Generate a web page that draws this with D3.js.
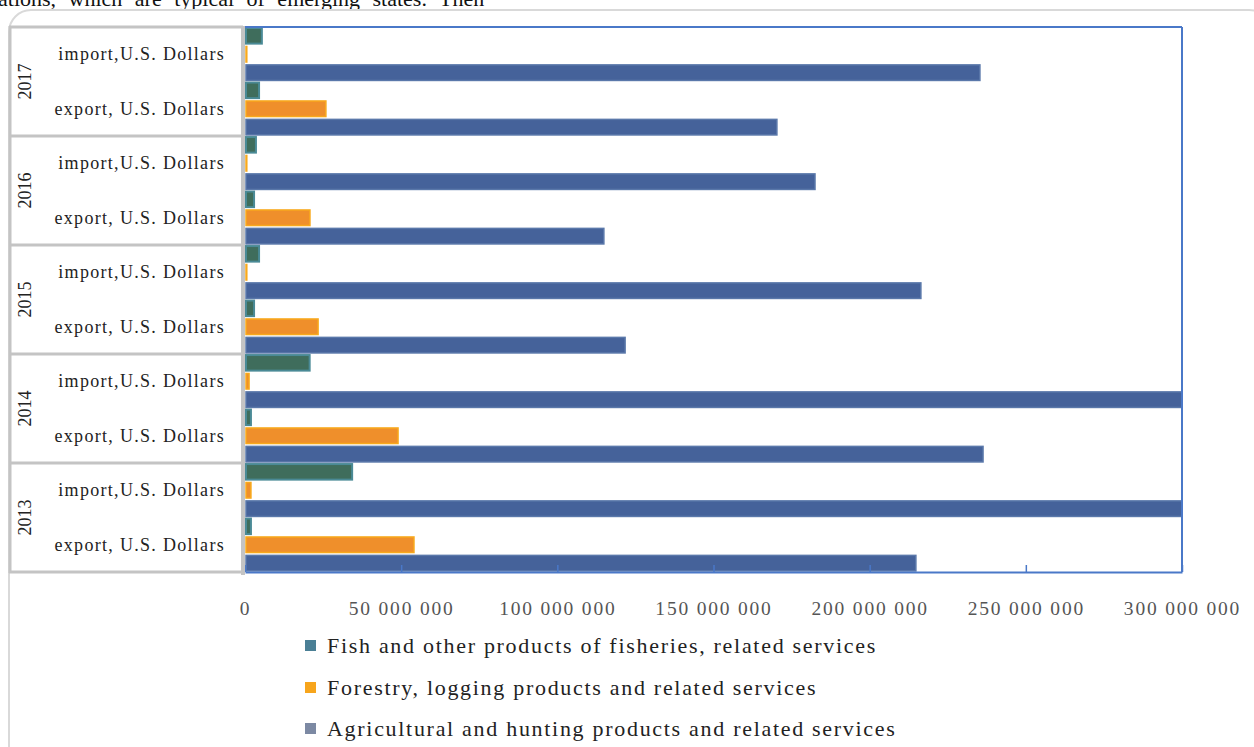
<!DOCTYPE html>
<html>
<head>
<meta charset="utf-8">
<script src="https://cdn.jsdelivr.net/npm/d3@7/dist/d3.min.js"></script>
<style>
  html, body { margin: 0; padding: 0; background: #fff; overflow: hidden; }
  text { font-family: "Liberation Serif", "Times New Roman", serif; }
</style>
</head>
<body>
<svg id="chart" width="1254" height="747"></svg>
<script>
// ---- data ----
const years = ["2017", "2016", "2015", "2014", "2013"];
const flows = ["import,U.S. Dollars", "export, U.S. Dollars"];
const seriesNames = [
  "Fish and other products of fisheries, related services",
  "Forestry, logging products and related services",
  "Agricultural and hunting products and related services"
];
// values in U.S. dollars, categories ordered: 2017 import, 2017 export, 2016 import, ... 2013 export
const fish     = [5400000, 4500000, 3500000, 2900000, 4500000, 2900000, 20700000, 1900000, 34300000, 1900000];
const forestry = [300000, 25900000, 300000, 20800000, 300000, 23400000, 1300000, 49000000, 1900000, 54100000];
const agri     = [235300000, 170300000, 182500000, 114900000, 216400000, 121700000, 320000000, 236300000, 330000000, 214800000];
const xTicks = [0, 50000000, 100000000, 150000000, 200000000, 250000000, 300000000];
const xTickLabels = ["0", "50 000 000", "100 000 000", "150 000 000", "200 000 000", "250 000 000", "300 000 000"];

// ---- layout ----
const svg = d3.select("#chart");
const plot = { left: 245, right: 1182, top: 27, bottom: 572 };

// page text fragment above the figure (cut by the page edge, as in the source)
svg.append("text")
  .attr("x", -2).attr("y", 6)
  .attr("font-size", 22)
  .attr("word-spacing", 7)
  .attr("fill", "#111")
  .text("ations,  which  are  typical  of  emerging  states.  Then");

// outer rounded frame
svg.append("rect")
  .attr("x", 9).attr("y", 10).attr("width", 1262).attr("height", 780)
  .attr("rx", 22).attr("ry", 22)
  .attr("fill", "none").attr("stroke", "#d9d9d9").attr("stroke-width", 2);

const categories = [];
years.forEach(y => flows.forEach(f => categories.push(y + "|" + f)));

const x = d3.scaleLinear().domain([0, 300000000]).range([plot.left, plot.right]);
const y = d3.scaleBand().domain(categories).range([plot.top, plot.bottom]).paddingInner(0).paddingOuter(0);
const keys = ["fish", "forestry", "agri"];
const ySub = d3.scaleBand().domain(keys).range([0, y.bandwidth()]).paddingInner(0.1).paddingOuter(0.03);

const seriesData = { fish, forestry, agri };
const fills   = { fish: "#3f6d5c", forestry: "#ef8f2b", agri: "#45629a" };
const strokes = { fish: "#4a8a96", forestry: "#f8a91c", agri: "#5a78aa" };
const legendColors = ["#4a7f95", "#f7a51c", "#7c89a3"];

// clip
svg.append("clipPath").attr("id", "plotclip")
  .append("rect").attr("x", plot.left).attr("y", plot.top - 2)
  .attr("width", plot.right - plot.left).attr("height", plot.bottom - plot.top + 4);

// bars
const barG = svg.append("g").attr("clip-path", "url(#plotclip)");
keys.forEach(k => {
  barG.selectAll(null)
    .data(seriesData[k].map((v, i) => ({ v, c: categories[i] })))
    .enter().append("rect")
    .attr("x", x(0) + 1)
    .attr("y", d => y(d.c) + ySub(k) + 0.5)
    .attr("width", d => Math.max(0.8, x(d.v) - x(0) - 1))
    .attr("height", ySub.bandwidth() - 1)
    .attr("fill", fills[k])
    .attr("stroke", strokes[k])
    .attr("stroke-width", k === "fish" ? 2 : 1.5);
});

// plot border (top, right) and x-axis
const blue = "#4a78c8";
svg.append("line").attr("x1", plot.left).attr("x2", plot.right).attr("y1", plot.top).attr("y2", plot.top)
  .attr("stroke", blue).attr("stroke-width", 2);
svg.append("line").attr("x1", plot.right).attr("x2", plot.right).attr("y1", plot.top).attr("y2", plot.bottom)
  .attr("stroke", blue).attr("stroke-width", 2);

const xAxis = d3.axisBottom(x).tickValues(xTicks).tickSize(-7).tickFormat((d, i) => xTickLabels[i]).tickSizeOuter(0);
const axG = svg.append("g").attr("transform", `translate(0,${plot.bottom})`).call(xAxis);
axG.select(".domain").attr("stroke", blue).attr("stroke-width", 2);
axG.selectAll(".tick line").attr("stroke", blue).attr("stroke-width", 1.5);
axG.selectAll(".tick text")
  .attr("y", 29)
  .attr("font-family", "Liberation Serif, serif")
  .attr("font-size", 19.5)
  .attr("letter-spacing", 1.8)
  .attr("fill", "#555");

// category axis frame
const grey = "#c4c4c4";
svg.append("line").attr("x1", 10).attr("x2", 10).attr("y1", plot.top - 1).attr("y2", plot.bottom + 1)
  .attr("stroke", grey).attr("stroke-width", 3);
svg.append("line").attr("x1", 243).attr("x2", 243).attr("y1", plot.top - 1).attr("y2", plot.bottom + 3)
  .attr("stroke", grey).attr("stroke-width", 4);
const yearBounds = years.map(yr => y(yr + "|" + flows[0]));
yearBounds.push(plot.bottom);
svg.selectAll(null).data(yearBounds).enter().append("line")
  .attr("x1", 9).attr("x2", 243)
  .attr("y1", d => d).attr("y2", d => d)
  .attr("stroke", grey).attr("stroke-width", 3);

// sub-category labels
svg.selectAll(null).data(categories).enter().append("text")
  .attr("x", 225)
  .attr("y", d => y(d) + y.bandwidth() / 2 + 6)
  .attr("text-anchor", "end")
  .attr("font-size", 18)
  .attr("letter-spacing", 1.3)
  .attr("fill", "#222")
  .text(d => d.split("|")[1]);

// year labels
svg.selectAll(null).data(years).enter().append("text")
  .attr("transform", yr => {
    const cy = y(yr + "|" + flows[0]) + y.bandwidth();
    return `translate(31,${cy}) rotate(-90)`;
  })
  .attr("text-anchor", "middle")
  .attr("font-size", 18)
  .attr("fill", "#222")
  .text(yr => yr);

// legend
const leg = svg.append("g");
const legY = [646, 688, 729];
seriesNames.forEach((name, i) => {
  leg.append("rect").attr("x", 305).attr("y", legY[i] - 6).attr("width", 11).attr("height", 11)
    .attr("fill", legendColors[i]);
  leg.append("text").attr("x", 327).attr("y", legY[i] + 7)
    .attr("font-size", 22).attr("letter-spacing", 1.7).attr("fill", "#222")
    .text(name);
});
</script>
</body>
</html>
